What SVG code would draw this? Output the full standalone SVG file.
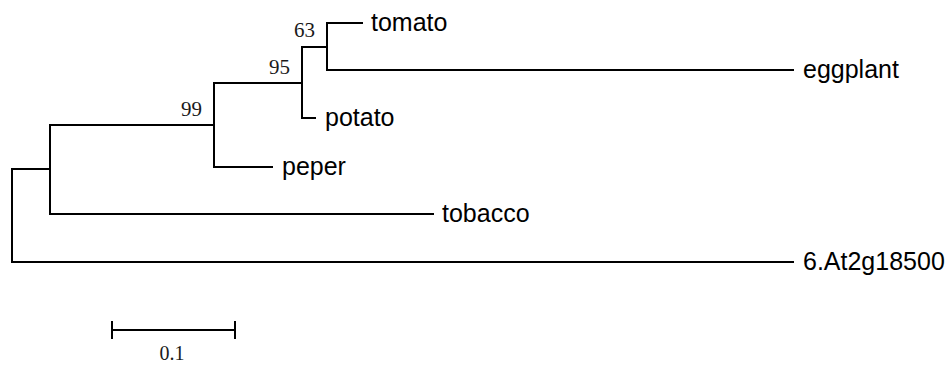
<svg xmlns="http://www.w3.org/2000/svg" width="952" height="365" viewBox="0 0 952 365">
  <style>
    .br { fill: none; stroke: #000; stroke-width: 2; stroke-linejoin: miter; stroke-linecap: square; }
    .leaf { font-family: "Liberation Sans", Arial, sans-serif; font-size: 25px; fill: #000; }
    .bs { font-family: "Liberation Serif", "Times New Roman", serif; font-size: 21px; fill: #1a1a1a; text-anchor: end; }
    .sc { font-family: "Liberation Serif", "Times New Roman", serif; font-size: 20px; fill: #1a1a1a; text-anchor: middle; }
  </style>
  <rect width="952" height="365" fill="#fff"/>
  <g id="connectors">
    <path class="br" d="M50 169 H12 V262 H793"/>
    <path class="br" d="M214 125 H50 V214 H433"/>
    <path class="br" d="M302 83 H214 V167 H272"/>
    <path class="br" d="M327 47 H302 V118 H315"/>
    <path class="br" d="M362 23 H327 V70 H793"/>
  </g>
  <g id="tomato"><text class="leaf" x="371" y="31">tomato</text></g>
  <g id="eggplant"><text class="leaf" x="803" y="78">eggplant</text></g>
  <g id="potato"><text class="leaf" x="325" y="126">potato</text></g>
  <g id="peper"><text class="leaf" x="282" y="175">peper</text></g>
  <g id="tobacco"><text class="leaf" x="442" y="222">tobacco</text></g>
  <g id="At2g18500"><text class="leaf" x="803" y="270">6.At2g18500</text></g>
  <g id="bootstrap-63"><text class="bs" x="315" y="37">63</text></g>
  <g id="bootstrap-95"><text class="bs" x="290" y="74">95</text></g>
  <g id="bootstrap-99"><text class="bs" x="202" y="116">99</text></g>
  <g id="scale-bar">
    <path class="br" d="M112 330 H235 M112 321 V339 M235 321 V339" style="stroke-linecap:butt"/>
    <text class="sc" x="172" y="360">0.1</text>
  </g>
</svg>
